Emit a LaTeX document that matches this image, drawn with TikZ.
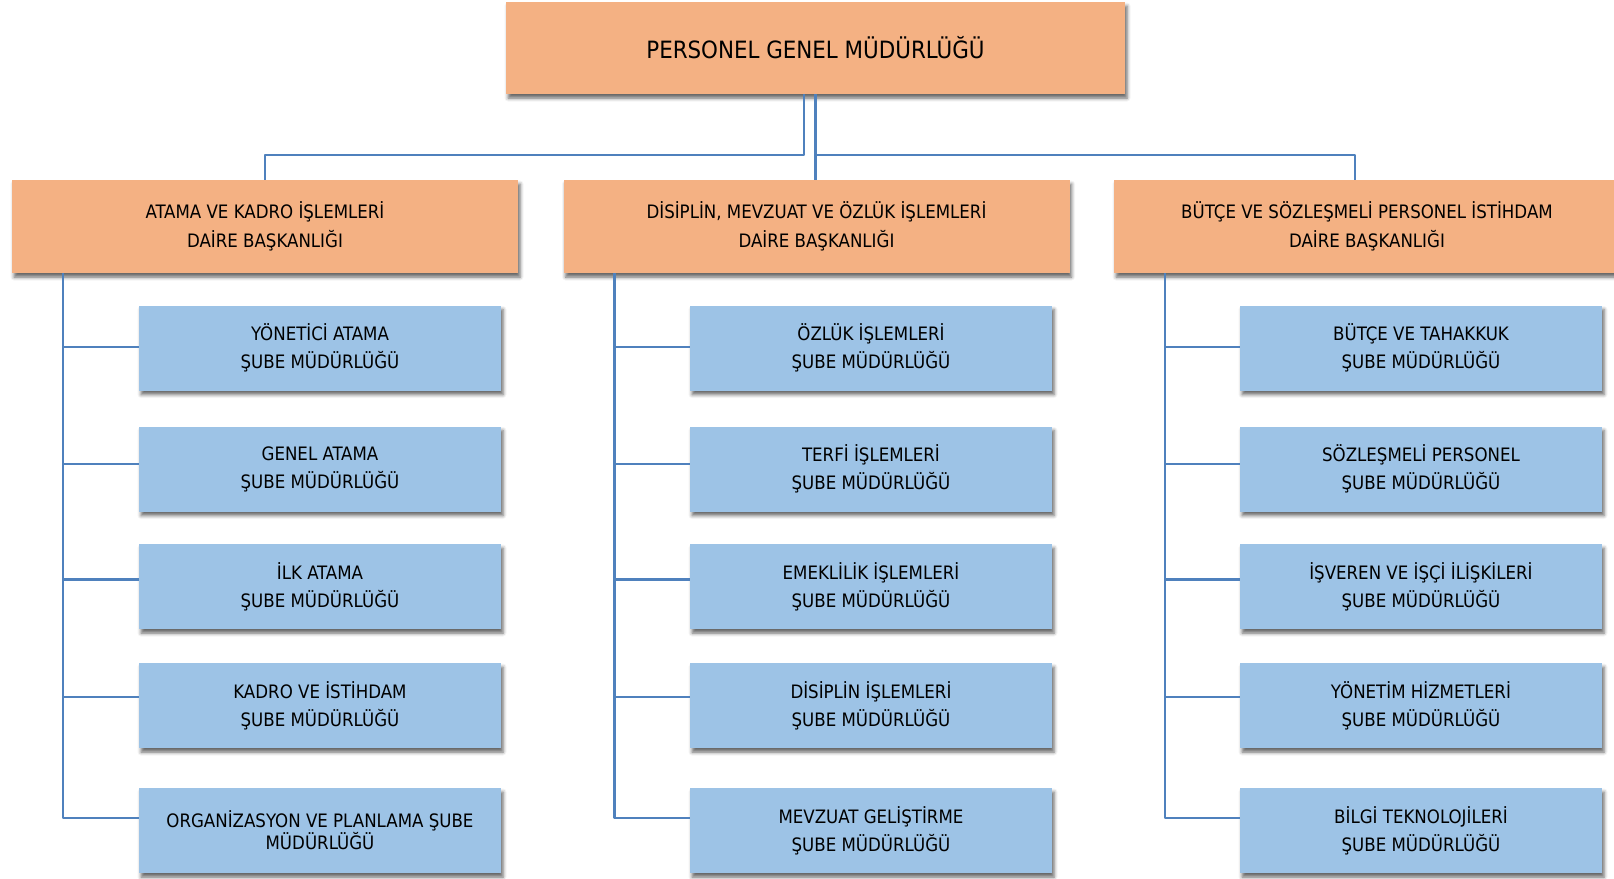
\documentclass[tikz,border=0pt]{standalone}
\usepackage{fontspec}
\setmainfont{DejaVu Sans Condensed}
\usetikzlibrary{shadows.blur}
\definecolor{turuncu}{HTML}{F4B183}
\definecolor{mavi}{HTML}{9DC3E6}
\definecolor{hat}{HTML}{4F81BD}
\tikzset{
  kutu/.style={rectangle, inner sep=0pt, align=center, text=black,
    blur shadow={shadow xshift=2pt, shadow yshift=-4pt, shadow blur radius=3.5pt, shadow opacity=60}},
  genel/.style={kutu, fill=turuncu, minimum width=619pt, minimum height=92pt,
    font=\fontsize{23.8}{29}\selectfont},
  daire/.style={kutu, fill=turuncu, minimum width=506pt, minimum height=93pt,
    font=\fontsize{18.5}{29}\selectfont},
  sube/.style={kutu, fill=mavi, minimum width=362pt, minimum height=85pt,
    font=\fontsize{18.5}{28}\selectfont},
  baglanti/.style={draw=hat, line width=2.6pt}
}
\begin{document}
\begin{tikzpicture}[x=1pt,y=-1pt,line join=round]
	\useasboundingbox (0,0) rectangle (1614,878);
	\def\xa{320}
	\def\xb{871}
	\def\xc{1421}
	% genel mudurluk ve daireler
	\node[genel] (pgm) at (815.5,48) {PERSONEL GENEL MÜDÜRLÜĞÜ};
	\node[daire] (a0) at (265,226.5) {ATAMA VE KADRO İŞLEMLERİ\\DAİRE BAŞKANLIĞI};
	\node[daire] (b0) at (816.5,226.5) {DİSİPLİN, MEVZUAT VE ÖZLÜK İŞLEMLERİ\\DAİRE BAŞKANLIĞI};
	\node[daire] (c0) at (1367,226.5) {BÜTÇE VE SÖZLEŞMELİ PERSONEL İSTİHDAM\\DAİRE BAŞKANLIĞI};
	% subeler
	\node[sube] (a1) at (\xa,348) {YÖNETİCİ ATAMA\\ŞUBE MÜDÜRLÜĞÜ};
	\node[sube] (a2) at (\xa,469) {GENEL ATAMA\\ŞUBE MÜDÜRLÜĞÜ};
	\node[sube] (a3) at (\xa,586.5) {İLK ATAMA\\ŞUBE MÜDÜRLÜĞÜ};
	\node[sube] (a4) at (\xa,705.5) {KADRO VE İSTİHDAM\\ŞUBE MÜDÜRLÜĞÜ};
	\node[sube,font=\fontsize{18.5}{19}\selectfont] (a5) at (\xa,830.5) {ORGANİZASYON VE PLANLAMA ŞUBE\\MÜDÜRLÜĞÜ};
	\node[sube] (b1) at (\xb,348) {ÖZLÜK İŞLEMLERİ\\ŞUBE MÜDÜRLÜĞÜ};
	\node[sube] (b2) at (\xb,469) {TERFİ İŞLEMLERİ\\ŞUBE MÜDÜRLÜĞÜ};
	\node[sube] (b3) at (\xb,586.5) {EMEKLİLİK İŞLEMLERİ\\ŞUBE MÜDÜRLÜĞÜ};
	\node[sube] (b4) at (\xb,705.5) {DİSİPLİN İŞLEMLERİ\\ŞUBE MÜDÜRLÜĞÜ};
	\node[sube] (b5) at (\xb,830.5) {MEVZUAT GELİŞTİRME\\ŞUBE MÜDÜRLÜĞÜ};
	\node[sube] (c1) at (\xc,348) {BÜTÇE VE TAHAKKUK\\ŞUBE MÜDÜRLÜĞÜ};
	\node[sube] (c2) at (\xc,469) {SÖZLEŞMELİ PERSONEL\\ŞUBE MÜDÜRLÜĞÜ};
	\node[sube] (c3) at (\xc,586.5) {İŞVEREN VE İŞÇİ İLİŞKİLERİ\\ŞUBE MÜDÜRLÜĞÜ};
	\node[sube] (c4) at (\xc,705.5) {YÖNETİM HİZMETLERİ\\ŞUBE MÜDÜRLÜĞÜ};
	\node[sube] (c5) at (\xc,830.5) {BİLGİ TEKNOLOJİLERİ\\ŞUBE MÜDÜRLÜĞÜ};
	% ust baglantilar
	\coordinate (yatay) at (0,155);
	\coordinate (ust) at ([xshift=-11.5pt]pgm.south);
	\coordinate (sag) at ([xshift=-12pt]c0.north);
	\draw[baglanti] (ust) -- (ust |- yatay) -| (a0.north);
	\draw[baglanti] (pgm.south) -- (pgm.south |- b0.north);
	\draw[baglanti] (pgm.south |- yatay) -| (sag);
	% sube baglantilari
	\foreach \k in {a,b,c}{
		\coordinate (\k-kol) at ([xshift=51pt]\k0.south west);
		\foreach \i/\d in {1/1,2/5,3/7,4/8.5,5/12.5}
			\coordinate (\k\i-u) at ([yshift=\d pt]\k\i.west);
		\draw[baglanti] (\k-kol) -- (\k-kol |- \k5-u) -- (\k5-u);
		\foreach \i in {1,...,4}
			\draw[baglanti] (\k-kol |- \k\i-u) -- (\k\i-u);
	}
\end{tikzpicture}
\end{document}
